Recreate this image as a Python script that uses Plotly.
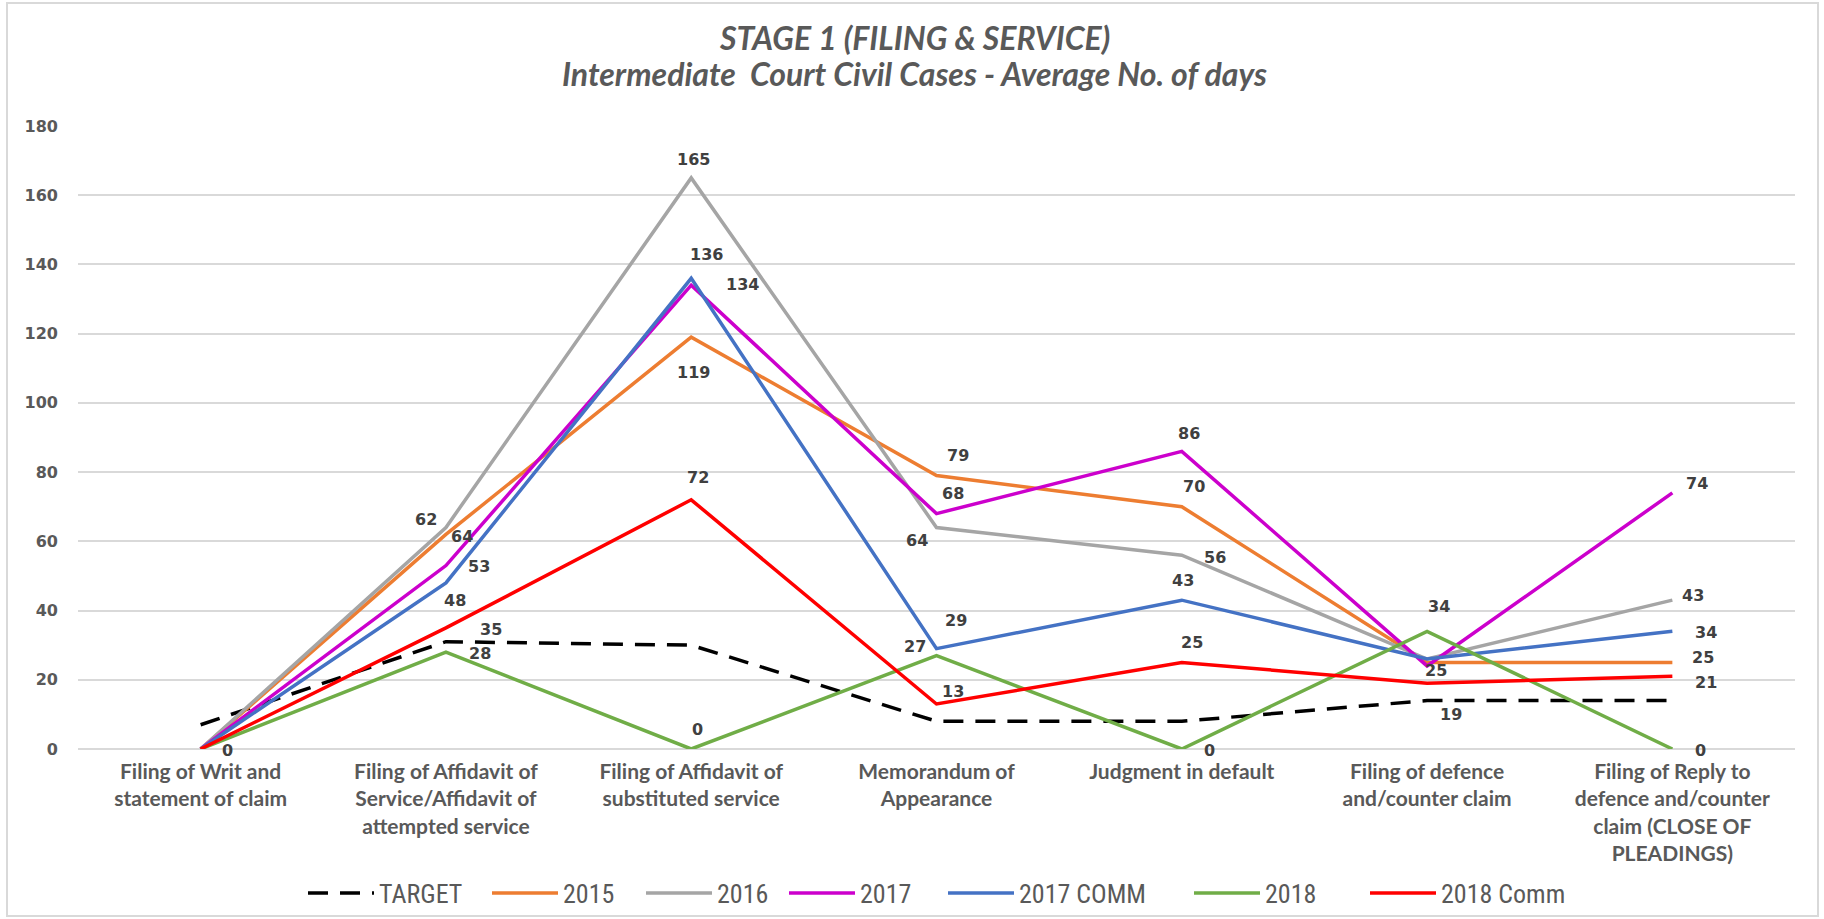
import plotly.graph_objects as go

# ---------------- data ----------------
categories = [
    "Filing of Writ and<br>statement of claim",
    "Filing of Affidavit of<br>Service/Affidavit of<br>attempted service",
    "Filing of Affidavit of<br>substituted service",
    "Memorandum of<br>Appearance",
    "Judgment in default",
    "Filing of defence<br>and/counter claim",
    "Filing of Reply to<br>defence and/counter<br>claim (CLOSE OF<br>PLEADINGS)",
]
target = [7, 31, 30, 8, 8, 14, 14]
y2015 = [0, 62, 119, 79, 70, 25, 25]
y2016 = [0, 64, 165, 64, 56, 26, 43]
y2017 = [0, 53, 134, 68, 86, 24, 74]
y2017_comm = [0, 48, 136, 29, 43, 26, 34]
y2018 = [0, 28, 0, 27, 0, 34, 0]
y2018_comm = [0, 35, 72, 13, 25, 19, 21]
y_ticks = [0, 20, 40, 60, 80, 100, 120, 140, 160, 180]
title_lines = ["STAGE 1 (FILING &amp; SERVICE)",
               "Intermediate  Court Civil Cases - Average No. of days"]

# ---------------- styles ----------------
W, H = 1824, 919
ML, MR, MT, MB = 78, 29, 126, 170

series = [
    ("TARGET", target, "#000000", "20px,12px"),
    ("2015", y2015, "#ED7D31", "solid"),
    ("2016", y2016, "#A5A5A5", "solid"),
    ("2017", y2017, "#CC00CC", "solid"),
    ("2017 COMM", y2017_comm, "#4472C4", "solid"),
    ("2018", y2018, "#70AD47", "solid"),
    ("2018 Comm", y2018_comm, "#FF0000", "solid"),
]
# left pixel of each legend entry's text (one legend box per series)
legend_text_left = [380, 564, 718, 861, 1020, 1266, 1442]
LEGEND_ITEMWIDTH = 66
LEGEND_TEXT_OFFSET = 77

# data-label pixel offsets (xshift, yshift) per series and category; None = no label
label_offsets = {
    "2015": [None, (-20, 15), (2, -35), (21, 20), (12, 20), (9, -8), (31, 5)],
    "2016": [None, (16, -9), (2, 18), (-20, -13), (33, -2), None, (21, 5)],
    "2017": [None, (33, -1), (51, 1), (16, 20), (7, 18), None, (25, 9)],
    "2017 COMM": [None, (9, -18), (15, 24), (19, 28), (1, 20), None, (34, -1)],
    "2018": [None, (34, -1), (6, 20), (-22, 9), (28, -1), (12, 25), (28, -1)],
    "2018 Comm": [(27, -1), (45, -2), (7, 22), (16, 13), (10, 20), (24, -31), (34, -6)],
}

legend_font = dict(family="Liberation Sans Narrow, Roboto Condensed, Arial Narrow, sans-serif",
                   size=26, color="#595959")

fig = go.Figure()
legend_layouts = {}
for i, (name, vals, color, dash) in enumerate(series):
    lg = "legend" if i == 0 else f"legend{i + 1}"
    fig.add_trace(go.Scatter(
        x=categories, y=vals, name=name, mode="lines",
        line=dict(color=color, width=3.5, dash=dash),
        hoverinfo="x+y+name", legend=lg,
    ))
    legend_layouts[lg] = dict(
        orientation="h", x=(legend_text_left[i] - LEGEND_TEXT_OFFSET) / W,
        xanchor="left", xref="container",
        y=1 - 893 / H, yanchor="middle", yref="container",
        font=legend_font, bgcolor="rgba(0,0,0,0)", itemwidth=LEGEND_ITEMWIDTH,
    )

plot_w = W - ML - MR
plot_h = H - MT - MB
def px_to_paper_x(px):
    return (px - ML) / plot_w
def px_to_paper_y(py):
    return (H - MB - py) / plot_h

annotations = []
for name, vals, color, dash in series:
    offs = label_offsets.get(name)
    if not offs:
        continue
    for cat, v, off in zip(categories, vals, offs):
        if off is None:
            continue
        annotations.append(dict(
            x=cat, y=v, xref="x", yref="y", text=str(v), showarrow=False,
            xshift=off[0], yshift=off[1],
            font=dict(family="DejaVu Sans", size=16, color="#404040", weight="bold"),
        ))

# two-line chart title
title_centers_y = [38, 73]
for txt, cy in zip(title_lines, title_centers_y):
    annotations.append(dict(
        x=px_to_paper_x(914), y=px_to_paper_y(cy), xref="paper", yref="paper",
        xanchor="center", yanchor="middle", showarrow=False,
        text="<b><i>" + txt + "</i></b>",
        font=dict(family="Lato, Open Sans, sans-serif", size=32, color="#595959"),
    ))

fig.update_layout(
    width=W, height=H,
    margin=dict(l=ML, r=MR, t=MT, b=MB, pad=0, autoexpand=False),
    paper_bgcolor="white", plot_bgcolor="white",
    xaxis=dict(
        type="category", range=[-0.5, 6.5], automargin=False,
        showgrid=False, showline=False, zeroline=False, ticks="",
        tickfont=dict(family="Lato, Open Sans, sans-serif", size=21, color="#595959", weight="bold"),
        ticklabelstandoff=8,
    ),
    yaxis=dict(
        range=[0, 180], tickvals=y_ticks, automargin=False,
        showgrid=True, gridcolor="#D9D9D9", gridwidth=1.5,
        zeroline=True, zerolinecolor="#D9D9D9", zerolinewidth=1.5,
        showline=False, ticks="",
        tickfont=dict(family="DejaVu Sans", size=16, color="#595959", weight="bold"),
        ticklabelstandoff=19,
    ),
    annotations=annotations,
    shapes=[dict(
        type="rect", xref="paper", yref="paper",
        x0=px_to_paper_x(7), x1=px_to_paper_x(1818),
        y0=px_to_paper_y(916), y1=px_to_paper_y(3),
        line=dict(color="#D9D9D9", width=2), fillcolor="rgba(0,0,0,0)", layer="below",
    )],
    showlegend=True,
    **legend_layouts,
)

fig.write_html(
    "out.html",
    config={"displayModeBar": False},
    post_script="document.body.style.margin='0';document.body.style.overflow='hidden';",
)
